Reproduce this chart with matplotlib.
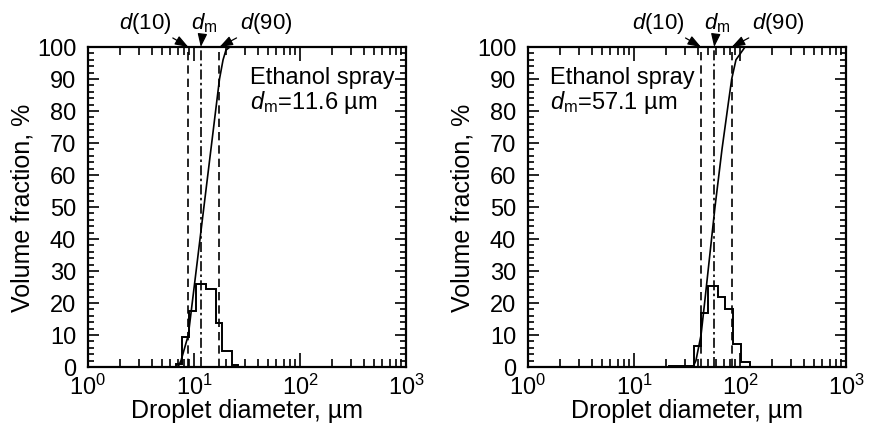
import matplotlib
matplotlib.use("Agg")
import matplotlib.pyplot as plt
from matplotlib.ticker import LogLocator, MultipleLocator, FixedLocator, NullFormatter
import numpy as np

plt.rcParams['font.family'] = ['Liberation Sans', 'DejaVu Sans']
plt.rcParams['mathtext.fontset'] = 'custom'
plt.rcParams['mathtext.rm'] = 'Liberation Sans'
plt.rcParams['mathtext.it'] = 'Liberation Sans:italic'
plt.rcParams['mathtext.bf'] = 'Liberation Sans:bold'

# ---------------- data ----------------
# left panel (dm = 11.6 um)
left_edges = [6.76, 7.70, 8.88, 10.4, 13.1, 15.96, 18.4, 22.6, 26.0]
left_hist = [1.0, 9.4, 17.5, 26.0, 24.4, 13.7, 5.0, 0.6]
left_cum_x = [7.07, 7.54, 8.84, 12.4, 17.4, 18.8, 20.0, 21.8]
left_cum_y = [0, 2, 10, 50, 90, 96, 99, 100]
left_d10, left_dm, left_d90 = 8.84, 11.6, 17.4
left_label = "Ethanol spray\n$d_\\mathrm{m}$=11.6 µm"

# right panel (dm = 57.1 um)
right_edges = [21.4, 36.8, 42.4, 50.4, 62.0, 72.9, 85.0, 102.2, 124.3]
right_hist = [0.4, 6.7, 17.0, 25.4, 22.0, 18.0, 7.2, 1.5]
right_cum_x = [36.0, 38.4, 42.9, 46.7, 58.1, 67.6, 78.0, 83.5, 91.6, 111.5]
right_cum_y = [0, 2, 10, 21, 50, 68, 83, 90, 96, 100]
right_d10, right_dm, right_d90 = 42.9, 57.1, 83.5
right_label = "Ethanol spray\n$d_\\mathrm{m}$=57.1 µm"

y_ticks = list(range(0, 101, 10))
x_ticks = [1, 10, 100, 1000]
x_ticklabels = ["$10^0$", "$10^1$", "$10^2$", "$10^3$"]

# ---------------- figure ----------------
W, H = 877, 431
fig = plt.figure(figsize=(W / 100, H / 100), dpi=100)

def axrect(x0, x1, y0, y1):
    return [x0 / W, 1 - y1 / H, (x1 - x0) / W, (y1 - y0) / H]

axL = fig.add_axes(axrect(88, 406, 48, 368))
axR = fig.add_axes(axrect(528, 846, 48, 368))

panels = [
    (axL, left_edges, left_hist, left_cum_x, left_cum_y, left_d10, left_dm, left_d90, left_label, 0.509),
    (axR, right_edges, right_hist, right_cum_x, right_cum_y, right_d10, right_dm, right_d90, right_label, 0.069),
]

for ax, edges, hist, cx, cy, d10, dm, d90, label, tx in panels:
    ax.set_xscale('log')
    ax.set_xlim(1, 1000)
    ax.set_ylim(0, 100)
    ax.stairs(hist, edges, color='black', lw=1.4, baseline=0)
    ax.plot(cx, cy, color='black', lw=1.2)
    ax.axvline(d10, color='black', lw=1.2, ls=(0, (5, 3)))
    ax.axvline(d90, color='black', lw=1.2, ls=(0, (5, 3)))
    ax.axvline(dm, color='black', lw=1.2, ls=(0, (6, 2, 1.5, 2)))

    ax.xaxis.set_major_locator(FixedLocator(x_ticks))
    ax.set_xticklabels(x_ticklabels)
    ax.xaxis.set_minor_locator(LogLocator(base=10, subs=np.arange(2, 10), numticks=20))
    ax.xaxis.set_minor_formatter(NullFormatter())
    ax.set_yticks(y_ticks)
    ax.yaxis.set_minor_locator(MultipleLocator(2))
    ax.tick_params(which='both', direction='in', top=True, right=True, labelsize=17, width=1.2)
    ax.tick_params(axis='x', which='major', length=10, pad=5)
    ax.tick_params(axis='x', which='minor', length=5.5)
    ax.tick_params(axis='y', which='major', length=8, pad=8.5)
    ax.tick_params(axis='y', which='minor', length=4.5)
    for s in ax.spines.values():
        s.set_linewidth(1.6)

    ax.set_xlabel("Droplet diameter, µm", fontsize=18, labelpad=-1)
    ax.set_ylabel("Volume fraction, %", fontsize=18, labelpad=2)

    ax.text(tx, 0.94, label, transform=ax.transAxes, fontsize=17, va='top', ha='left',
            linespacing=1.0)

    arrow = dict(arrowstyle='-|>,head_length=0.5,head_width=0.18', lw=0.9, color='black',
                 shrinkA=1, shrinkB=0)
    for xv, txt, off in [(d10, "$d$(10)", (-43, 25)), (dm, "$d_\\mathrm{m}$", (3, 25)),
                         (d90, "$d$(90)", (47, 25))]:
        ax.annotate(txt, xy=(xv, 100), xycoords='data', xytext=off, textcoords='offset pixels',
                    ha='center', va='center', fontsize=16, arrowprops=arrow, annotation_clip=False)

fig.savefig("out.png", dpi=100)
